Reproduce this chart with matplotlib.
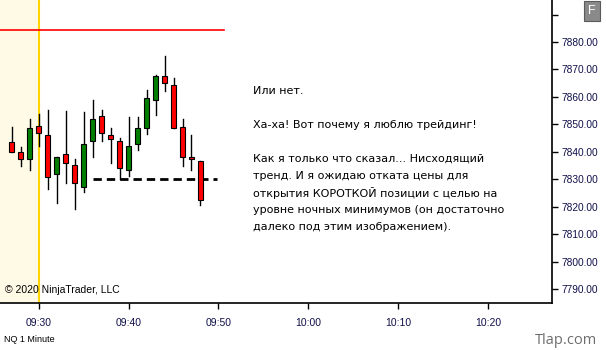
import matplotlib
matplotlib.use('Agg')
import matplotlib.pyplot as plt
from matplotlib.patches import Rectangle

# 1-minute NQ bars
times = ['09:27', '09:28', '09:29', '09:30', '09:31', '09:32', '09:33', '09:34',
         '09:35', '09:36', '09:37', '09:38', '09:39', '09:40', '09:41', '09:42',
         '09:43', '09:44', '09:45', '09:46', '09:47', '09:48']
opens = [7843.5, 7839.75, 7837.5, 7849.5, 7846.0, 7832.0, 7839.25, 7835.25,
         7827.25, 7843.75, 7853.0, 7846.0, 7844.0, 7833.25, 7843.0, 7848.5,
         7859.0, 7867.5, 7864.25, 7849.0, 7837.75, 7836.5]
highs = [7849.0, 7841.75, 7852.0, 7853.75, 7855.25, 7838.0, 7854.75, 7837.5,
         7854.5, 7859.0, 7855.25, 7848.75, 7845.0, 7852.5, 7852.5, 7862.5,
         7868.0, 7875.0, 7867.0, 7852.0, 7846.0, 7836.5]
lows = [7840.0, 7834.75, 7833.5, 7842.0, 7826.5, 7821.5, 7828.75, 7819.25,
        7825.5, 7838.25, 7843.75, 7836.0, 7830.25, 7831.25, 7840.5, 7846.5,
        7853.25, 7862.0, 7848.5, 7834.75, 7833.25, 7820.75]
closes = [7840.0, 7837.5, 7848.5, 7846.75, 7830.75, 7838.0, 7835.75, 7828.75,
          7843.0, 7852.0, 7846.75, 7844.5, 7834.0, 7842.0, 7848.5, 7859.5,
          7867.5, 7865.0, 7848.5, 7838.0, 7837.5, 7822.25]

xtick_labels = ['09:30', '09:40', '09:50', '10:00', '10:10', '10:20']
ytick_values = [7790, 7800, 7810, 7820, 7830, 7840, 7850, 7860, 7870, 7880, 7890]

session_start = '09:30'
red_level = 7884.4
night_low_level = 7830.0
night_low_span = ('09:36', '09:49.8')

note_lines = [
    'Или нет.',
    '',
    'Ха-ха! Вот почему я люблю трейдинг!',
    '',
    'Как я только что сказал... Нисходящий',
    'тренд. И я ожидаю отката цены для',
    'открытия КОРОТКОЙ позиции с целью на',
    'уровне ночных минимумов (он достаточно',
    'далеко под этим изображением).',
]


def to_min(s):
    h, m = s.split(':')
    return int(h) * 60 + float(m)


W, H = 606, 350
fig = plt.figure(figsize=(W / 100, H / 100), dpi=100)
ax = fig.add_axes([0, 47 / H, 552 / W, 303 / H])

x0 = to_min('09:25') + 0.72
x1 = to_min('10:27') + 0.06
ax.set_xlim(x0, x1)
ax.set_ylim(7784.9, 7895.3)

# pre-session shading + session start line
ax.axvspan(x0, to_min(session_start), color='#fffae6', zorder=0)
ax.axvline(to_min(session_start), color='#ffd400', lw=1.5, zorder=1)

# red level line
ax.plot([x0, to_min('09:50.6')], [red_level, red_level], color='red', lw=1.2, zorder=2)

# dashed target line
ax.plot([to_min(night_low_span[0]), to_min(night_low_span[1])],
        [night_low_level, night_low_level], color='black', lw=2,
        ls=(0, (3, 1.8)), zorder=3)

# candles
bw = 0.45
for t, o, h, l, c in zip(times, opens, highs, lows, closes):
    x = to_min(t)
    ax.plot([x, x], [l, h], color='black', lw=1, zorder=4)
    if c > o:
        col = '#008000'
    elif c < o:
        col = '#ff0000'
    else:
        col = 'black'
    lo, hi = min(o, c), max(o, c)
    if hi - lo < 0.5:
        hi = lo + 0.5
    ax.add_patch(Rectangle((x - bw / 2, lo), bw, hi - lo, facecolor=col,
                           edgecolor='black', lw=0.8, zorder=5))

# axes styling
for s in ['left', 'top']:
    ax.spines[s].set_visible(False)
ax.spines['bottom'].set_linewidth(1.2)
ax.spines['right'].set_linewidth(1.2)
ax.set_xticks([to_min(t) for t in xtick_labels])
ax.set_xticklabels(xtick_labels, fontsize=7.5, family='Liberation Sans',
                   color='#10104a')
ax.tick_params(axis='x', direction='out', length=4, width=1, pad=7)
ax.yaxis.tick_right()
ax.set_yticks(ytick_values)
ax.set_yticklabels(['%.2f' % v if v < 7890 else '' for v in ytick_values],
                   fontsize=7.3, family='Liberation Sans', color='#10104a')
ax.tick_params(axis='y', direction='out', length=4, width=1, pad=3)

# note text
for i, line in enumerate(note_lines):
    fig.text(253 / W, 1 - (91 + i * 17) / H, line, fontsize=8, va='center',
             ha='left', family='DejaVu Sans', color='black')

fig.text(5 / W, 1 - 290 / H, '\u00a9 2020 NinjaTrader, LLC', fontsize=7.5,
         va='center', family='Liberation Sans')
fig.text(4 / W, 1 - 340 / H, 'NQ 1 Minute', fontsize=6.5, va='center',
         family='Liberation Sans')
fig.text(597 / W, 1 - 340 / H, 'Tlap.com', fontsize=10.5, va='center', ha='right',
         family='Open Sans', color='#6e6e6e')

# "F" button
fig.text(592 / W, 1 - 11 / H, 'F', fontsize=9, color='white', ha='center',
         va='center', family='Liberation Sans',
         bbox=dict(boxstyle='square,pad=0.35', facecolor='#8a8a8a',
                   edgecolor='#5a5a5a', lw=0.8))

fig.savefig('out.png', dpi=100)
